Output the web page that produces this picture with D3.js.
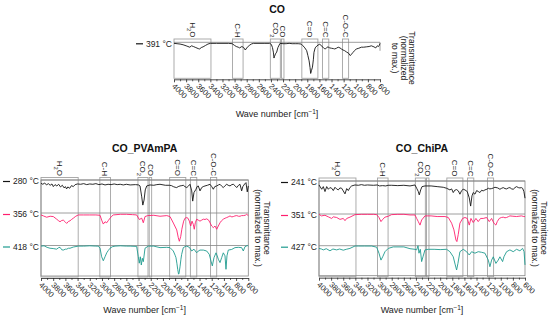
<!DOCTYPE html>
<html><head><meta charset="utf-8">
<script src="https://cdn.jsdelivr.net/npm/d3@7"></script>
<style>body{margin:0;background:#fff}svg{display:block;font-family:"Liberation Sans",Arial,Helvetica,sans-serif}</style>
</head><body><svg id="c" width="550" height="320"></svg>
<script>
// ---------- DATA ----------
const tickValues = [4000,3800,3600,3400,3200,3000,2800,2600,2400,2200,2000,1800,1600,1400,1200,1000,800,600];
const minorTickValues = [3900,3700,3500,3300,3100,2900,2700,2500,2300,2100,1900,1700,1500,1300,1100,900,700];
const bandNames = ["H|2|O","C-H","CO|2|","CO","C=O","C=C","C-O-C"];
const bandFrom  = [4000,3035,2410,2225,1890,1550,1220];
const bandTo    = [3390,2860,2245,2185,1625,1445,1118];

const panelTitles = ["CO","CO_PVAmPA","CO_ChiPA"];
const seriesLabels = [["391 °C"],["280 °C","356 °C","418 °C"],["241 °C","351 °C","427 °C"]];

// transmittance normalized to max (%), [wave number, value]
const co391 = [[4000,97],[3950,96],[3900,95],[3850,93],[3800,90],[3770,88],[3740,86],[3710,90],[3680,88],[3640,85],[3600,82],[3576,81],[3550,85],[3520,87],[3480,91],[3440,95],[3400,97],[3300,97],[3100,97],[3040,96],[3000,91],[2972,88],[2940,86],[2917,84],[2880,88],[2850,85],[2823,78],[2790,86],[2750,92],[2724,95],[2690,97],[2500,97],[2420,97],[2394,94],[2375,85],[2360,72],[2350,55],[2340,60],[2325,67],[2305,72],[2285,85],[2265,92],[2250,97],[2200,96],[2150,96],[2100,97],[2050,96],[2000,96],[1950,96],[1900,95],[1871,90],[1840,84],[1810,76],[1790,62],[1770,47],[1755,28],[1744,11],[1730,20],[1715,29],[1700,50],[1690,71],[1670,84],[1640,90],[1595,95],[1570,90],[1541,86],[1520,82],[1500,81],[1480,85],[1459,87],[1430,84],[1400,83],[1370,82],[1348,81],[1320,83],[1290,86],[1260,84],[1238,81],[1210,78],[1183,76],[1150,72],[1120,69],[1090,62],[1070,66],[1046,71],[1020,76],[991,81],[950,83],[908,86],[870,86],[826,87],[780,88],[743,90],[700,87],[670,84],[644,90],[625,88],[610,92],[600,97]];

const pva280 = [[4000,90],[3970,87],[3940,91],[3910,85],[3880,89],[3850,84],[3820,88],[3798,80],[3770,86],[3740,82],[3710,87],[3680,79],[3650,84],[3620,76],[3600,80],[3580,73],[3560,79],[3530,75],[3500,83],[3470,80],[3440,86],[3400,88],[3350,87],[3300,89],[3250,86],[3200,88],[3150,87],[3100,89],[3050,86],[3000,88],[2950,85],[2900,87],[2850,86],[2800,88],[2750,86],[2700,87],[2650,85],[2600,87],[2538,85],[2450,86],[2400,85],[2376,82],[2348,49],[2330,24],[2310,39],[2290,70],[2266,82],[2212,85],[2150,84],[2100,86],[2048,87],[1960,84],[1896,84],[1860,83],[1830,80],[1800,78],[1775,77],[1750,80],[1720,82],[1690,83],[1666,84],[1640,80],[1610,77],[1580,82],[1556,87],[1528,67],[1512,36],[1491,62],[1458,72],[1440,80],[1420,82],[1392,67],[1365,77],[1340,80],[1310,82],[1270,84],[1228,87],[1200,80],[1174,72],[1150,80],[1118,82],[1090,85],[1064,87],[1040,82],[1010,77],[980,83],[954,87],[930,84],[900,82],[870,86],[846,87],[820,83],[790,77],[760,84],[736,87],[709,67],[690,80],[682,82],[660,88],[638,92],[617,64],[600,82]];

const pva356 = [[4000,94],[3960,91],[3907,87],[3850,90],[3798,89],[3770,85],[3743,81],[3710,76],[3688,73],[3660,77],[3634,78],[3600,72],[3579,68],[3550,74],[3524,76],[3500,80],[3470,84],[3430,90],[3388,94],[3300,94],[3200,94],[3100,94],[3032,93],[3005,78],[2978,66],[2950,73],[2922,70],[2895,77],[2868,84],[2840,90],[2814,94],[2700,96],[2600,96],[2500,95],[2431,94],[2388,80],[2348,84],[2322,70],[2294,89],[2250,92],[2150,93],[2048,90],[1938,92],[1884,89],[1829,69],[1774,48],[1748,24],[1731,13],[1708,28],[1690,50],[1675,63],[1660,75],[1638,84],[1610,86],[1590,84],[1567,75],[1545,60],[1523,75],[1502,65],[1486,50],[1469,70],[1447,81],[1420,78],[1392,75],[1365,78],[1338,81],[1310,80],[1283,82],[1250,78],[1228,70],[1201,60],[1174,55],[1146,60],[1118,50],[1092,60],[1064,70],[1040,76],[1010,81],[980,84],[954,86],[930,88],[900,91],[870,88],[846,89],[820,91],[790,92],[760,90],[736,90],[710,92],[682,92],[650,93],[627,96],[600,92]];

const pva418 = [[4000,98],[3950,99],[3900,94],[3852,91],[3800,90],[3743,88],[3710,93],[3688,94],[3660,86],[3634,85],[3600,88],[3579,88],[3550,91],[3524,91],[3470,95],[3388,98],[3300,98],[3200,99],[3100,98],[3060,98],[3032,91],[3005,63],[2978,50],[2950,63],[2922,76],[2895,84],[2868,91],[2830,96],[2786,98],[2700,99],[2600,98],[2538,98],[2431,97],[2404,63],[2388,42],[2371,63],[2355,36],[2338,58],[2322,47],[2294,91],[2240,98],[2150,98],[2048,93],[1938,94],[1884,93],[1830,82],[1800,68],[1786,60],[1770,40],[1758,22],[1744,6],[1737,8],[1720,30],[1705,55],[1693,71],[1666,93],[1640,96],[1610,98],[1567,94],[1528,82],[1491,88],[1447,76],[1420,82],[1392,85],[1338,85],[1283,82],[1240,71],[1212,49],[1190,33],[1163,60],[1130,76],[1110,66],[1092,55],[1064,44],[1037,60],[1010,76],[982,66],[966,22],[950,66],[928,85],[873,87],[818,93],[764,94],[709,93],[682,82],[655,96],[617,100],[600,98]];

const chi241 = [[4000,88],[3955,75],[3929,83],[3901,68],[3873,83],[3846,75],[3820,80],[3791,78],[3764,71],[3736,81],[3710,76],[3681,73],[3655,79],[3626,78],[3600,70],[3571,61],[3543,77],[3516,71],[3490,80],[3461,85],[3406,88],[3350,87],[3300,89],[3250,87],[3200,88],[3100,87],[3038,88],[3000,85],[2950,86],[2900,85],[2860,87],[2800,87],[2700,86],[2600,87],[2498,85],[2416,88],[2388,78],[2361,68],[2345,58],[2322,73],[2300,83],[2251,85],[2150,85],[2050,83],[1949,81],[1894,78],[1839,73],[1811,76],[1784,65],[1760,72],[1729,74],[1700,70],[1674,60],[1646,71],[1620,75],[1591,73],[1553,68],[1520,49],[1497,24],[1475,55],[1454,65],[1426,60],[1398,71],[1370,68],[1344,65],[1316,72],[1290,70],[1261,73],[1230,75],[1206,78],[1180,76],[1151,77],[1120,79],[1096,81],[1050,79],[1014,75],[985,78],[959,80],[930,77],[904,76],[875,79],[849,80],[820,76],[794,75],[765,80],[739,83],[710,80],[684,79],[660,80],[640,78],[618,68],[600,48]];

const chi351 = [[4000,99],[3960,94],[3901,96],[3846,91],[3791,86],[3764,91],[3708,89],[3654,83],[3599,86],[3571,79],[3543,86],[3489,90],[3406,98],[3300,99],[3200,99],[3100,99],[3048,98],[3010,89],[2977,76],[2949,83],[2911,90],[2857,93],[2802,98],[2700,99],[2600,99],[2498,97],[2416,97],[2388,86],[2361,76],[2333,65],[2306,81],[2251,94],[2150,94],[2050,92],[1921,92],[1866,89],[1811,71],[1773,50],[1740,18],[1724,13],[1702,35],[1674,71],[1630,86],[1591,89],[1553,86],[1520,65],[1492,86],[1454,73],[1410,86],[1372,76],[1333,86],[1289,86],[1234,89],[1190,76],[1151,86],[1113,71],[1080,65],[1058,76],[1025,86],[990,89],[959,90],[930,88],[904,89],[870,92],[849,94],[800,93],[739,92],[700,93],[657,94],[620,92],[600,92]];

const chi427 = [[4000,91],[3960,89],[3929,86],[3880,90],[3819,83],[3770,89],[3709,86],[3660,89],[3599,85],[3550,88],[3489,91],[3406,99],[3351,99],[3250,99],[3131,99],[3048,95],[3010,75],[2977,52],[2949,63],[2911,80],[2857,91],[2774,96],[2600,96],[2498,90],[2416,88],[2388,86],[2366,100],[2350,75],[2328,88],[2306,47],[2284,63],[2251,86],[2196,88],[2100,88],[2000,87],[1894,88],[1839,80],[1784,63],[1751,36],[1729,19],[1707,41],[1674,80],[1619,88],[1564,80],[1520,69],[1481,80],[1426,75],[1372,80],[1316,78],[1261,75],[1206,52],[1179,30],[1151,52],[1124,63],[1080,41],[1042,52],[1014,63],[970,47],[948,63],[904,80],[849,86],[794,80],[739,88],[684,83],[640,91],[615,80],[600,36]];

const panelSeries = [[co391],[pva280,pva356,pva418],[chi241,chi351,chi427]];

// ---------- LAYOUT / STYLE ----------
const colors = ["#141414","#ff1f6e","#1f9b8f"];
const layouts = [
  {x0:174,x1:380,rows:[42.3],bottom:77.3,boxTop:39,bandLabelY:37.5,titleY:13,waveY:117,frame:false,
   yl:{lines:["Transmittance","(normalized","to max.)"],xs:[412,403.5,394.5],cy:58}},
  {x0:41,x1:248.3,rows:[180,213,245.5],bottom:276,boxTop:177.5,bandLabelY:176,titleY:152,waveY:313,frame:true,
   yl:{lines:["Transmittance","(normalized to max.)"],xs:[267,258],cy:228}},
  {x0:319,x1:525,rows:[181,214,245.7],bottom:275.7,boxTop:178,bandLabelY:176.5,titleY:152,waveY:313,frame:true,
   yl:{lines:["Transmittance","(normalized to max.)"],xs:[543.5,535],cy:228}}
];
const frameColor="#858585", boxColor="#a3a3a3";

const svg = d3.select("#c");

function richText(sel, str, size){
  // "H|2|O" -> H, subscript 2, O
  const parts = str.split("|");
  parts.forEach((p,i)=>{
    if(!p) return;
    if(i%2===1) sel.append("tspan").attr("baseline-shift","sub").attr("font-size",size*0.72).text(p);
    else sel.append("tspan").text(p);
  });
}

layouts.forEach((L,pi)=>{
  const g = svg.append("g");
  const x = d3.scaleLinear().domain([4000,600]).range([L.x0,L.x1]);
  const rowBottoms = L.rows.map((t,i)=> i<L.rows.length-1 ? L.rows[i+1] : L.bottom);

  // bands boxes
  bandNames.forEach((b,i)=>{
    const xa = x(bandFrom[i]), xb = x(bandTo[i]);
    g.append("rect").attr("x",xa).attr("y",L.boxTop).attr("width",xb-xa)
      .attr("height",L.bottom+1-L.boxTop).attr("fill","none")
      .attr("stroke",boxColor).attr("stroke-width",0.9);
    const cx=(xa+xb)/2;
    const t = g.append("text").attr("transform",`translate(${cx},${L.bandLabelY}) rotate(90)`)
      .attr("text-anchor","end").attr("dy","0.35em").attr("font-size",8).attr("fill","#222");
    richText(t,b,8);
  });

  // frame
  if(L.frame){
    g.append("rect").attr("x",L.x0).attr("y",L.rows[0]).attr("width",L.x1-L.x0)
      .attr("height",L.bottom-L.rows[0]).attr("fill","none").attr("stroke",frameColor).attr("stroke-width",0.8);
  }
  L.rows.forEach((t,i)=>{
    g.append("line").attr("x1",L.x0).attr("x2",L.x1).attr("y1",t).attr("y2",t)
      .attr("stroke",frameColor).attr("stroke-width",0.8);
  });
  if(!L.frame){
    g.append("line").attr("x1",L.x1).attr("x2",L.x1).attr("y1",L.rows[0]).attr("y2",L.rows[0]+8.5)
      .attr("stroke",frameColor).attr("stroke-width",0.8);
  }

  // series
  panelSeries[pi].forEach((data,si)=>{
    const top=L.rows[si], bot=rowBottoms[si];
    const y = d3.scaleLinear().domain([0,100]).range([bot,top]);
    const col = pi===0 ? colors[0] : colors[si];
    g.append("path").datum(data).attr("fill","none").attr("stroke",col).attr("stroke-width",0.9)
      .attr("stroke-linejoin","round")
      .attr("d",d3.line().x(d=>x(d[0])).y(d=>y(d[1])));
    const ly = top+1.5;
    g.append("line").attr("x1",L.x0-38).attr("x2",L.x0-31).attr("y1",ly).attr("y2",ly)
      .attr("stroke",col).attr("stroke-width",1.2);
    g.append("text").attr("x",L.x0-2).attr("y",ly).attr("dy","0.35em").attr("text-anchor","end")
      .attr("font-size",8.5).attr("fill","#222").text(seriesLabels[pi][si]);
  });

  // axis
  const axY = L.bottom+2;
  const ax = g.append("g").attr("transform",`translate(0,${axY})`)
    .call(d3.axisBottom(x).tickValues(tickValues).tickSize(3).tickSizeOuter(0).tickFormat(d3.format("d")));
  ax.select(".domain").attr("stroke","#222").attr("stroke-width",0.8);
  ax.selectAll(".tick line").attr("stroke","#222").attr("stroke-width",0.8);
  ax.selectAll(".tick text").attr("font-size",7.8).attr("fill","#222")
    .attr("font-family",null)
    .attr("text-anchor","start").attr("y",0).attr("dy","0.35em")
    .attr("transform","translate(-1,5.5) rotate(45)");
  const axm = g.append("g").attr("transform",`translate(0,${axY})`)
    .call(d3.axisBottom(x).tickValues(minorTickValues).tickSize(2).tickFormat(""));
  axm.select(".domain").remove();
  axm.selectAll(".tick line").attr("stroke","#222").attr("stroke-width",0.7);

  // wave number label
  const wt = g.append("text").attr("x",(L.x0+L.x1)/2).attr("y",L.waveY).attr("text-anchor","middle")
    .attr("font-size",9).attr("fill","#222");
  wt.append("tspan").text("Wave number [cm");
  wt.append("tspan").attr("baseline-shift","super").attr("font-size",6.5).text("−1");
  wt.append("tspan").text("]");

  // title
  g.append("text").attr("x",(L.x0+L.x1)/2).attr("y",L.titleY).attr("text-anchor","middle")
    .attr("font-size",10.5).attr("font-weight","bold").attr("fill","#111").text(panelTitles[pi]);

  // y label (right, rotated)
  L.yl.lines.forEach((ln,i)=>{
    g.append("text").attr("transform",`translate(${L.yl.xs[i]},${L.yl.cy}) rotate(90)`)
      .attr("text-anchor","middle").attr("dy","0.35em").attr("font-size",8.5).attr("fill","#222").text(ln);
  });
});
</script>
</body></html>
